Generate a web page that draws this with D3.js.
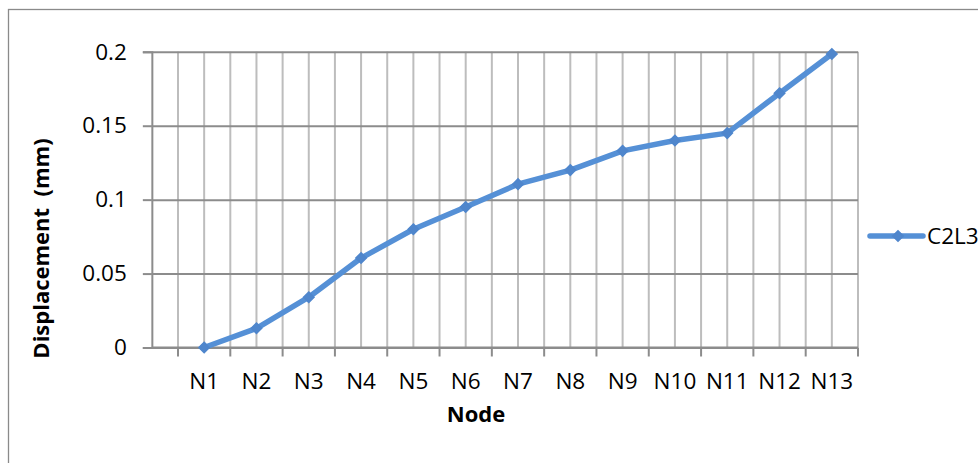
<!DOCTYPE html>
<html>
<head>
<meta charset="utf-8">
<script src="https://cdn.jsdelivr.net/npm/d3@7"></script>
<style>
  html, body { margin: 0; padding: 0; background: #fff; }
  svg { display: block; }
  text { font-family: "Open Sans", "Lato", sans-serif; fill: #000; }
</style>
</head>
<body>
<svg id="chart" width="978" height="463"></svg>
<script>
const categories = ["N1","N2","N3","N4","N5","N6","N7","N8","N9","N10","N11","N12","N13"];
const seriesName = "C2L3";
const values = [0, 0.013, 0.034, 0.0605, 0.080, 0.095, 0.1105, 0.120, 0.133, 0.140, 0.145, 0.172, 0.1985];
const yTicks = [0, 0.05, 0.1, 0.15, 0.2];
const xTitle = "Node";
const yTitle = "Displacement  (mm)";

const svg = d3.select("#chart");
const blue = "#5590d6";
const markerBlue = "#4f86cc";

// outer chart border
svg.append("rect").attr("x", 8.5).attr("y", 9.5).attr("width", 1000).attr("height", 500)
  .attr("fill", "none").attr("stroke", "#8a8a8a").attr("stroke-width", 1.3);

const x = d3.scaleBand().domain(categories).range([178, 858]);
const bw = x.bandwidth();
const plotLeft = x.range()[0] - bw / 2;
const plotRight = x.range()[1];
const y = d3.scaleLinear().domain([0, 0.2]).range([347.5, 51.8]);

// vertical gridlines (band boundaries and centres)
const vLines = [];
categories.forEach(c => { vLines.push(x(c)); vLines.push(x(c) + bw / 2); });
vLines.push(plotRight);
svg.append("g").selectAll("line").data(vLines).join("line")
  .attr("x1", d => d).attr("x2", d => d)
  .attr("y1", y(0.2)).attr("y2", y(0))
  .attr("stroke", "#bdbdbd").attr("stroke-width", 2);

// horizontal gridlines via y axis
const yAxis = d3.axisLeft(y).tickValues(yTicks).tickFormat(d => d === 0 ? "0" : String(+d.toFixed(2)))
  .tickSize(9).tickPadding(16);
const gy = svg.append("g").attr("transform", `translate(${plotLeft},0)`).call(yAxis);
gy.select(".domain").attr("stroke", "#8c8c8c").attr("stroke-width", 2);
gy.selectAll(".tick line").attr("stroke", "#8c8c8c").attr("stroke-width", 2);
gy.selectAll(".tick text").attr("font-size", 22.5).attr("font-family", "Open Sans").attr("fill", "#000");
gy.selectAll(".tick").append("line")
  .attr("x1", 0).attr("x2", plotRight - plotLeft)
  .attr("stroke", "#8c8c8c").attr("stroke-width", 2);

// x axis line & ticks at band boundaries
const xBounds = categories.map(c => x(c)).concat([plotRight]);
svg.append("line").attr("x1", plotLeft).attr("x2", plotRight)
  .attr("y1", y(0)).attr("y2", y(0)).attr("stroke", "#8c8c8c").attr("stroke-width", 2);
svg.append("g").selectAll("line").data(xBounds).join("line")
  .attr("x1", d => d).attr("x2", d => d)
  .attr("y1", y(0)).attr("y2", y(0) + 9)
  .attr("stroke", "#8c8c8c").attr("stroke-width", 2);

const xAxis = d3.axisBottom(x).tickSize(0).tickPadding(0);
const gx = svg.append("g").attr("transform", `translate(0,${y(0)})`).call(xAxis);
gx.select(".domain").remove();
gx.selectAll(".tick text").attr("font-size", 22.5).attr("font-family", "Open Sans")
  .attr("fill", "#000").attr("y", 41.5).attr("dy", 0);

// axis titles
svg.append("text").attr("x", 476).attr("y", 422).attr("text-anchor", "middle")
  .attr("font-size", 22).attr("font-weight", "bold").text(xTitle);
svg.append("text").attr("transform", "translate(49,248.5) rotate(-90)").attr("text-anchor", "middle")
  .attr("font-size", 22).attr("font-weight", "bold").style("white-space", "pre").text(yTitle);

// series line
const cx = d => x(d) + bw / 2;
const line = d3.line().x((d, i) => cx(categories[i])).y(d => y(d));
svg.append("path").datum(values).attr("d", line)
  .attr("fill", "none").attr("stroke", blue).attr("stroke-width", 5.5)
  .attr("stroke-linejoin", "round").attr("stroke-linecap", "round");

const diamond = d3.symbol().type(d3.symbolDiamond2 || d3.symbolDiamond).size(70);
svg.append("g").selectAll("path").data(values).join("path")
  .attr("transform", (d, i) => `translate(${cx(categories[i])},${y(d)})`)
  .attr("d", diamond).attr("fill", markerBlue).attr("stroke", markerBlue).attr("stroke-width", 1.5);

// legend
const lg = svg.append("g").attr("transform", "translate(870,236)");
lg.append("line").attr("x1", 0).attr("x2", 53).attr("y1", 0).attr("y2", 0)
  .attr("stroke", blue).attr("stroke-width", 5.5).attr("stroke-linecap", "round");
lg.append("path").attr("transform", "translate(28,0)").attr("d", diamond)
  .attr("fill", markerBlue).attr("stroke", markerBlue).attr("stroke-width", 1.5);
lg.append("text").attr("x", 57).attr("y", 8).attr("font-size", 22.5).text(seriesName);
</script>
</body>
</html>
